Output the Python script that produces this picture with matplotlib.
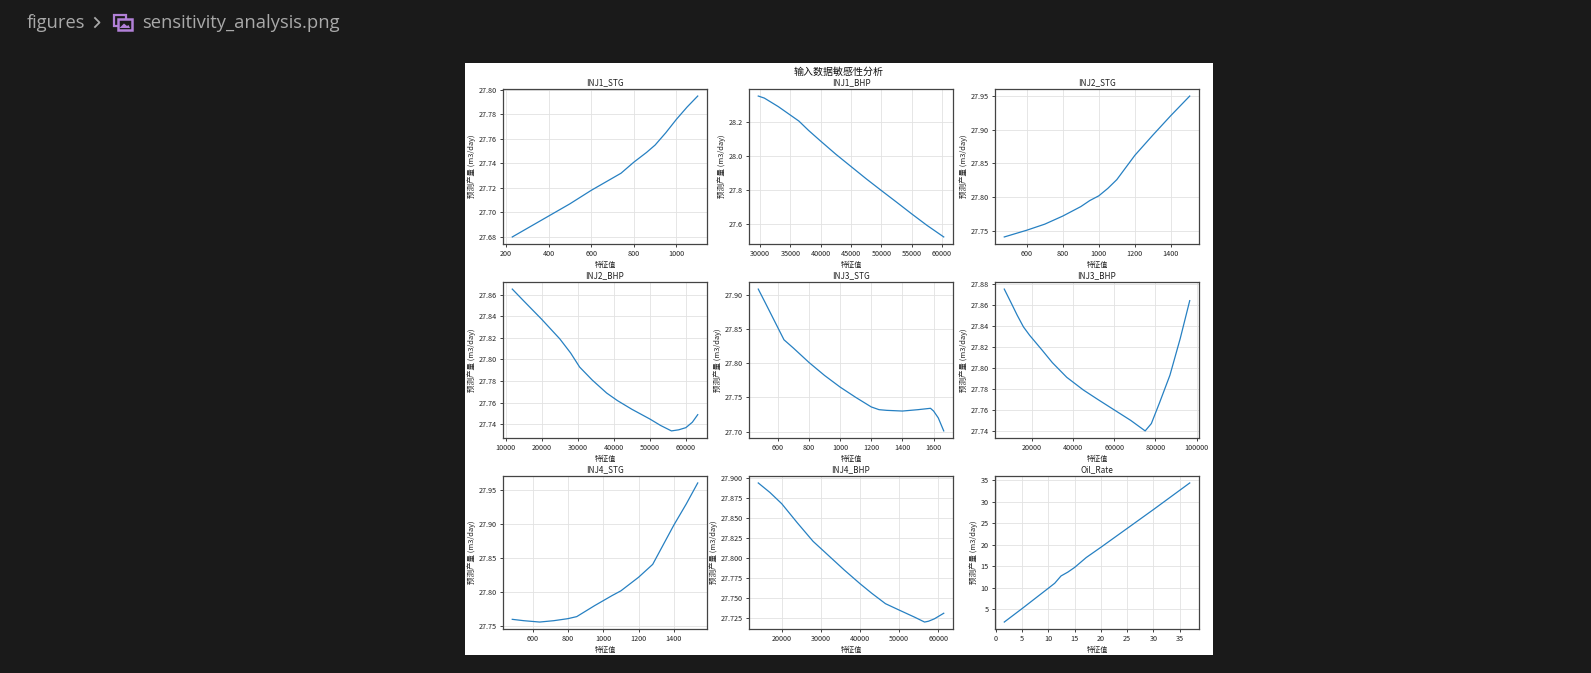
import matplotlib
matplotlib.use("Agg")
import matplotlib.pyplot as plt
from matplotlib.patches import Rectangle, Polygon
from matplotlib.lines import Line2D

plt.rcParams['font.family'] = ['Noto Sans CJK SC', 'DejaVu Sans']
plt.rcParams['axes.unicode_minus'] = False

# ---------------- data ----------------
titles = ["INJ1_STG", "INJ1_BHP", "INJ2_STG",
          "INJ2_BHP", "INJ3_STG", "INJ3_BHP",
          "INJ4_STG", "INJ4_BHP", "Oil_Rate"]

inj1_stg_x = [230, 300, 400, 500, 600, 700, 740, 800, 860, 900, 950, 1000, 1050, 1100]
inj1_stg_y = [27.680, 27.687, 27.697, 27.707, 27.718, 27.728, 27.732, 27.741, 27.749,
              27.755, 27.765, 27.776, 27.786, 27.795]

inj1_bhp_x = [29700, 30700, 33000, 36400, 38000, 40000, 42500, 45000, 47500, 50000,
              52500, 55000, 57500, 60300]
inj1_bhp_y = [28.352, 28.340, 28.290, 28.205, 28.150, 28.087, 28.010, 27.938, 27.866,
              27.797, 27.729, 27.660, 27.593, 27.524]

inj2_stg_x = [475, 600, 700, 750, 800, 900, 950, 1000, 1050, 1100, 1200, 1300, 1400, 1505]
inj2_stg_y = [27.741, 27.751, 27.760, 27.766, 27.772, 27.786, 27.795, 27.802, 27.813,
              27.826, 27.862, 27.892, 27.921, 27.950]

inj2_bhp_x = [11800, 15000, 20000, 25000, 28000, 30500, 34000, 38000, 41000, 45000,
              50000, 53000, 56000, 58000, 60000, 61800, 63300]
inj2_bhp_y = [27.865, 27.854, 27.837, 27.819, 27.806, 27.793, 27.781, 27.769, 27.762,
              27.754, 27.745, 27.739, 27.734, 27.735, 27.737, 27.742, 27.749]

inj3_stg_x = [475, 520, 560, 600, 640, 700, 800, 900, 1000, 1100, 1200, 1250, 1300,
              1400, 1500, 1580, 1600, 1630, 1665]
inj3_stg_y = [27.908, 27.888, 27.870, 27.852, 27.834, 27.822, 27.801, 27.782, 27.765,
              27.750, 27.736, 27.732, 27.731, 27.730, 27.732, 27.734, 27.730, 27.720, 27.701]

inj3_bhp_x = [6700, 10000, 13000, 16000, 19000, 25000, 30000, 37000, 45000, 52000,
              60000, 68000, 75000, 78000, 82000, 87000, 92000, 96600]
inj3_bhp_y = [27.875, 27.862, 27.850, 27.839, 27.831, 27.817, 27.805, 27.791, 27.779,
              27.770, 27.760, 27.750, 27.740, 27.747, 27.767, 27.793, 27.828, 27.864]

inj4_stg_x = [485, 550, 640, 720, 800, 850, 950, 1050, 1100, 1200, 1280, 1340, 1400,
              1470, 1535]
inj4_stg_y = [27.760, 27.758, 27.756, 27.758, 27.761, 27.764, 27.780, 27.795, 27.802,
              27.822, 27.841, 27.870, 27.899, 27.930, 27.961]

inj4_bhp_x = [14000, 17000, 20000, 24000, 28000, 32000, 36000, 40000, 43000, 46500,
              50000, 54000, 56500, 57500, 59000, 61400]
inj4_bhp_y = [27.894, 27.882, 27.868, 27.844, 27.821, 27.803, 27.785, 27.768, 27.756,
              27.743, 27.735, 27.726, 27.720, 27.721, 27.724, 27.731]

oil_rate_x = [1.6, 5.0, 10.0, 11.2, 12.4, 13.7, 15.0, 17.2, 20.0, 25.0, 30.0, 36.9]
oil_rate_y = [1.95, 5.1, 9.85, 11.0, 12.7, 13.6, 14.7, 17.0, 19.4, 23.8, 28.2, 34.4]

series_x = [inj1_stg_x, inj1_bhp_x, inj2_stg_x, inj2_bhp_x, inj3_stg_x, inj3_bhp_x,
            inj4_stg_x, inj4_bhp_x, oil_rate_x]
series_y = [inj1_stg_y, inj1_bhp_y, inj2_stg_y, inj2_bhp_y, inj3_stg_y, inj3_bhp_y,
            inj4_stg_y, inj4_bhp_y, oil_rate_y]

suptitle = "输入数据敏感性分析"
xlabel = "特征值"
ylabel = "预测产量 (m3/day)"

# ---------------- figure ----------------
W, H = 1591, 673
BG = "#1a1a1a"
fig = plt.figure(figsize=(W / 100, H / 100), dpi=100, facecolor=BG)


def fx(px):
    return px / W


def fy(py):
    return 1 - py / H


# white image area
fig.patches.append(Rectangle((fx(465), fy(655)), fx(1213) - fx(465), fy(63) - fy(655),
                             transform=fig.transFigure, facecolor="white",
                             edgecolor="none", zorder=-5))

# breadcrumb
crumb_col = "#a9a9a9"
fig.text(fx(27), fy(23), "figures", color=crumb_col, fontsize=13.2,
         family=["Open Sans", "DejaVu Sans"], va="center", ha="left")
fig.lines.append(Line2D([fx(95), fx(99.5), fx(95)], [fy(18), fy(22.5), fy(27)],
                        transform=fig.transFigure, color=crumb_col, lw=1.3))
icon_col = "#b180d7"
fig.patches.append(Rectangle((fx(114), fy(26)), fx(12), fy(15) - fy(26),
                             transform=fig.transFigure, facecolor="none",
                             edgecolor=icon_col, lw=1.6))
fig.patches.append(Rectangle((fx(118), fy(29.5)), fx(13.5), fy(18.5) - fy(29.5),
                             transform=fig.transFigure, facecolor=BG,
                             edgecolor=icon_col, lw=1.8))
fig.patches.append(Polygon([(fx(119.5), fy(28)), (fx(124), fy(23.5)), (fx(127), fy(26)),
                            (fx(128.5), fy(25)), (fx(130), fy(28))],
                           closed=True, transform=fig.transFigure,
                           facecolor=icon_col, edgecolor="none"))
fig.text(fx(142), fy(23), "sensitivity_analysis.png", color=crumb_col, fontsize=13.2,
         family=["Open Sans", "DejaVu Sans"], va="center", ha="left")

# suptitle
fig.text(fx(839), fy(72), suptitle, ha="center", va="center", fontsize=7.2,
         color="#111111")

col_left = [503, 749, 995]
col_w = 204
rows = [(89, 244), (282, 438), (476, 629)]

for i in range(9):
    r, c = divmod(i, 3)
    top, bot = rows[r]
    ax = fig.add_axes([fx(col_left[c]), fy(bot), fx(col_w), fy(top) - fy(bot)])
    ax.set_facecolor("white")
    ax.plot(series_x[i], series_y[i], color="#2680c2", lw=0.9)
    ax.set_title(titles[i], fontsize=5.9, pad=3, color="#222222")
    ax.set_xlabel(xlabel, fontsize=5.1, labelpad=2, color="#222222")
    ax.set_ylabel(ylabel, fontsize=5.4, labelpad=2, color="#222222")
    ax.grid(True, color="#e2e2e2", lw=0.6)
    ax.tick_params(labelsize=5.2, length=2.5, width=0.6, pad=2, colors="#222222")
    for s in ax.spines.values():
        s.set_color("#444444")
        s.set_linewidth(0.9)

fig.savefig("out.png", dpi=100, facecolor=BG)
